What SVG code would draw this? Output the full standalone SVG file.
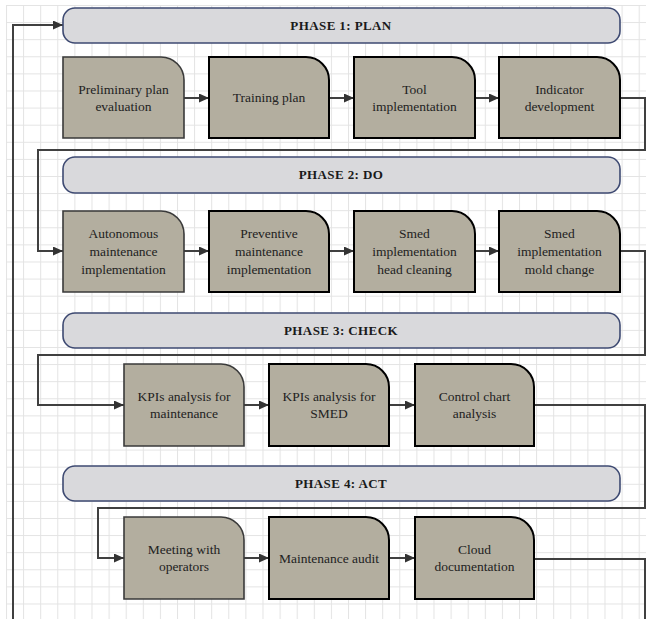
<svg xmlns="http://www.w3.org/2000/svg" width="646" height="619" viewBox="0 0 646 619">
  <defs>
    <pattern id="grid" patternUnits="userSpaceOnUse" x="6" y="5" width="17.1" height="17.1">
      <path d="M0 0.5 H17.1 M0.5 0 V17.1" fill="none" stroke="#e3e3e3" stroke-width="1"/>
    </pattern>
    <marker id="arr" markerUnits="userSpaceOnUse" markerWidth="11" markerHeight="10" refX="10" refY="4.5" orient="auto">
      <path d="M0,0 L10,4.5 L0,9 Z" fill="#333"/>
    </marker>
  </defs>
  <style>
    .banner { fill: #d9d9dc; stroke: #3e4a72; stroke-width: 1.6; }
    .btxt { font-family: "Liberation Serif", "Times New Roman", serif; font-weight: bold; font-size: 13px; letter-spacing: 0.4px; fill: #1a1a1a; text-anchor: middle; }
    .box { fill: #b3ae9f; stroke: #000; stroke-width: 2; }
    .box.first { stroke: #3a3a3a; stroke-width: 1.6; }
    .t { font-family: "Liberation Serif", "Times New Roman", serif; font-size: 13.5px; fill: #222; text-anchor: middle; }
    .conn { fill: none; stroke: #404040; stroke-width: 2; }
  </style>

  <rect x="0" y="0" width="646" height="619" fill="#ffffff"/>
  <rect x="6" y="5" width="640" height="614" fill="url(#grid)"/>

  <g id="connectors">
    <path class="conn" d="M184,98 H209" marker-end="url(#arr)"/>
    <path class="conn" d="M329,98 H354" marker-end="url(#arr)"/>
    <path class="conn" d="M475,98 H499" marker-end="url(#arr)"/>
    <path class="conn" d="M620,98 H645 V150 H38 V251 H63" marker-end="url(#arr)"/>
    <path class="conn" d="M184,251 H209" marker-end="url(#arr)"/>
    <path class="conn" d="M329,251 H354" marker-end="url(#arr)"/>
    <path class="conn" d="M475,251 H499" marker-end="url(#arr)"/>
    <path class="conn" d="M620,251 H645 V355 H38 V405 H124" marker-end="url(#arr)"/>
    <path class="conn" d="M244,405 H269" marker-end="url(#arr)"/>
    <path class="conn" d="M389,405 H415" marker-end="url(#arr)"/>
    <path class="conn" d="M534,405 H645 V508 H98 V558 H124" marker-end="url(#arr)"/>
    <path class="conn" d="M244,558 H269" marker-end="url(#arr)"/>
    <path class="conn" d="M389,558 H415" marker-end="url(#arr)"/>
    <path class="conn" d="M534,559 H645 V640 H13 V25 H63" marker-end="url(#arr)"/>
  </g>

  <g id="phase1">
    <rect class="banner" x="63" y="8" width="557" height="35" rx="12"/>
    <text class="btxt" x="341" y="30">PHASE 1: PLAN</text>
  </g>
  <g id="n-preliminary">
    <path class="box first" d="M63,57 H161 A23,23 0 0 1 184,80 V138 H63 Z"/>
    <text class="t" x="123.5" y="94">Preliminary plan</text>
    <text class="t" x="123.5" y="111">evaluation</text>
  </g>
  <g id="n-training">
    <path class="box" d="M209,57 H306 A23,23 0 0 1 329,80 V138 H209 Z"/>
    <text class="t" x="269" y="102">Training plan</text>
  </g>
  <g id="n-tool">
    <path class="box" d="M354,57 H452 A23,23 0 0 1 475,80 V138 H354 Z"/>
    <text class="t" x="414.5" y="94">Tool</text>
    <text class="t" x="414.5" y="111">implementation</text>
  </g>
  <g id="n-indicator">
    <path class="box" d="M499,57 H597 A23,23 0 0 1 620,80 V138 H499 Z"/>
    <text class="t" x="559.5" y="94">Indicator</text>
    <text class="t" x="559.5" y="111">development</text>
  </g>

  <g id="phase2">
    <rect class="banner" x="63" y="157" width="557" height="36" rx="12"/>
    <text class="btxt" x="341" y="179">PHASE 2: DO</text>
  </g>
  <g id="n-autonomous">
    <path class="box first" d="M63,211 H161 A23,23 0 0 1 184,234 V292 H63 Z"/>
    <text class="t" x="123.5" y="238">Autonomous</text>
    <text class="t" x="123.5" y="256">maintenance</text>
    <text class="t" x="123.5" y="274">implementation</text>
  </g>
  <g id="n-preventive">
    <path class="box" d="M209,211 H306 A23,23 0 0 1 329,234 V292 H209 Z"/>
    <text class="t" x="269" y="238">Preventive</text>
    <text class="t" x="269" y="256">maintenance</text>
    <text class="t" x="269" y="274">implementation</text>
  </g>
  <g id="n-smed-head">
    <path class="box" d="M354,211 H452 A23,23 0 0 1 475,234 V292 H354 Z"/>
    <text class="t" x="414.5" y="238">Smed</text>
    <text class="t" x="414.5" y="256">implementation</text>
    <text class="t" x="414.5" y="274">head cleaning</text>
  </g>
  <g id="n-smed-mold">
    <path class="box" d="M499,211 H597 A23,23 0 0 1 620,234 V292 H499 Z"/>
    <text class="t" x="559.5" y="238">Smed</text>
    <text class="t" x="559.5" y="256">implementation</text>
    <text class="t" x="559.5" y="274">mold change</text>
  </g>

  <g id="phase3">
    <rect class="banner" x="63" y="313" width="557" height="35" rx="12"/>
    <text class="btxt" x="341" y="335">PHASE 3: CHECK</text>
  </g>
  <g id="n-kpi-maint">
    <path class="box first" d="M124,364 H221 A23,23 0 0 1 244,387 V446 H124 Z"/>
    <text class="t" x="184" y="401">KPIs analysis for</text>
    <text class="t" x="184" y="418">maintenance</text>
  </g>
  <g id="n-kpi-smed">
    <path class="box" d="M269,364 H366 A23,23 0 0 1 389,387 V446 H269 Z"/>
    <text class="t" x="329" y="401">KPIs analysis for</text>
    <text class="t" x="329" y="418">SMED</text>
  </g>
  <g id="n-control">
    <path class="box" d="M415,364 H511 A23,23 0 0 1 534,387 V446 H415 Z"/>
    <text class="t" x="474.5" y="401">Control chart</text>
    <text class="t" x="474.5" y="418">analysis</text>
  </g>

  <g id="phase4">
    <rect class="banner" x="63" y="466" width="557" height="35" rx="12"/>
    <text class="btxt" x="341" y="488">PHASE 4: ACT</text>
  </g>
  <g id="n-meeting">
    <path class="box first" d="M124,517 H221 A23,23 0 0 1 244,540 V599 H124 Z"/>
    <text class="t" x="184" y="554">Meeting with</text>
    <text class="t" x="184" y="571">operators</text>
  </g>
  <g id="n-audit">
    <path class="box" d="M269,517 H366 A23,23 0 0 1 389,540 V599 H269 Z"/>
    <text class="t" x="329" y="563">Maintenance audit</text>
  </g>
  <g id="n-cloud">
    <path class="box" d="M415,517 H511 A23,23 0 0 1 534,540 V599 H415 Z"/>
    <text class="t" x="474.5" y="554">Cloud</text>
    <text class="t" x="474.5" y="571">documentation</text>
  </g>
</svg>
